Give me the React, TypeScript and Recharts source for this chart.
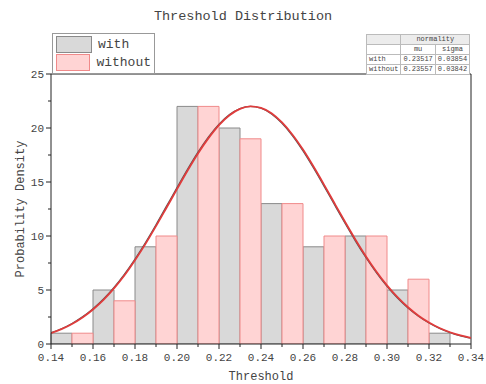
import { Bar, ComposedChart, Legend, Line, ReferenceLine, XAxis, YAxis } from "recharts";

// Histogram bins (0.01 wide), "with" and "without" interleaved.
const binStarts = [
  0.14, 0.15, 0.16, 0.17, 0.18, 0.19, 0.2, 0.21, 0.22, 0.23,
  0.24, 0.25, 0.26, 0.27, 0.28, 0.29, 0.3, 0.31, 0.32, 0.33,
];
const withBins = [0.14, 0.16, 0.18, 0.2, 0.22, 0.24, 0.26, 0.28, 0.3, 0.32];
const withCounts = [1, 5, 9, 22, 20, 13, 9, 10, 5, 1];
const withoutBins = [0.15, 0.17, 0.19, 0.21, 0.23, 0.25, 0.27, 0.29, 0.31];
const withoutCounts = [1, 4, 10, 22, 19, 13, 10, 10, 6];

// Normal fit curves.
const curveX = [
  0.14, 0.145, 0.15, 0.155, 0.16, 0.165, 0.17, 0.175, 0.18, 0.185, 0.19,
  0.195, 0.2, 0.205, 0.21, 0.215, 0.22, 0.225, 0.23, 0.235, 0.24, 0.245,
  0.25, 0.255, 0.26, 0.265, 0.27, 0.275, 0.28, 0.285, 0.29, 0.295, 0.3,
  0.305, 0.31, 0.315, 0.32, 0.325, 0.33, 0.335, 0.34,
];
const withCurve = [
  1.04, 1.41, 1.9, 2.51, 3.27, 4.17, 5.24, 6.48, 7.87, 9.4, 11.04, 12.76,
  14.48, 16.17, 17.76, 19.17, 20.35, 21.24, 21.8, 22.0, 21.83, 21.3, 20.43,
  19.28, 17.88, 16.3, 14.62, 12.89, 11.18, 9.53, 7.99, 6.59, 5.34, 4.25,
  3.33, 2.57, 1.95, 1.45, 1.06, 0.76, 0.54,
];
const withoutCurve = [
  1.01, 1.38, 1.86, 2.46, 3.2, 4.09, 5.15, 6.37, 7.76, 9.27, 10.91, 12.62,
  14.34, 16.04, 17.64, 19.06, 20.27, 21.18, 21.77, 22.0, 21.86, 21.36,
  20.51, 19.38, 18.0, 16.43, 14.76, 13.03, 11.32, 9.66, 8.11, 6.69, 5.43,
  4.33, 3.4, 2.62, 1.99, 1.48, 1.09, 0.79, 0.56,
];

const xTicks = [
  0.14, 0.15, 0.16, 0.17, 0.18, 0.19, 0.2, 0.21, 0.22, 0.23, 0.24, 0.25,
  0.26, 0.27, 0.28, 0.29, 0.3, 0.31, 0.32, 0.33, 0.34,
];
const yTicks = [0, 2.5, 5, 7.5, 10, 12.5, 15, 17.5, 20, 22.5, 25];

const fitRows = [
  { name: "with", mu: "0.23517", sigma: "0.03854" },
  { name: "without", mu: "0.23557", sigma: "0.03842" },
];

const binRows = binStarts.map((b) => {
  const wi = withBins.findIndex((v) => Math.abs(v - b) < 1e-9);
  const wo = withoutBins.findIndex((v) => Math.abs(v - b) < 1e-9);
  return {
    bin: b.toFixed(2),
    with: wi >= 0 ? withCounts[wi] : 0,
    without: wo >= 0 ? withoutCounts[wo] : 0,
  };
});
const withLine = curveX.map((x, i) => ({ x, y: withCurve[i] }));
const withoutLine = curveX.map((x, i) => ({ x, y: withoutCurve[i] }));

const FONT = "'Liberation Mono', monospace";
const TEXT = "#444";
const GRAY_FILL = "#d9d9d9";
const GRAY_EDGE = "#8a8a8a";
const PINK_FILL = "#ffd4d4";
const PINK_EDGE = "#f08a8a";

function XTick({ x, y, payload }: any) {
  const v = payload.value as number;
  const major = Math.round(v * 100) % 2 === 0;
  return (
    <g>
      <line x1={x} x2={x} y1={y} y2={y + (major ? 5 : 3)} stroke="#222" />
      {major && (
        <text x={x} y={y + 17} textAnchor="middle" fontSize={11} fill={TEXT} fontFamily={FONT}>
          {v.toFixed(2)}
        </text>
      )}
    </g>
  );
}

function YTick({ x, y, payload }: any) {
  const v = payload.value as number;
  const major = v % 5 === 0;
  return (
    <g>
      <line x1={x} x2={x - (major ? 5 : 3)} y1={y} y2={y} stroke="#222" />
      {major && (
        <text x={x - 7} y={y + 4} textAnchor="end" fontSize={11} fill={TEXT} fontFamily={FONT}>
          {v}
        </text>
      )}
    </g>
  );
}

function YLabel({ viewBox }: any) {
  const cx = viewBox.x + 21;
  const cy = viewBox.y + viewBox.height / 2;
  return (
    <text
      x={cx}
      y={cy}
      transform={`rotate(-90 ${cx} ${cy})`}
      textAnchor="middle"
      dominantBaseline="central"
      fontSize={12}
      fill={TEXT}
      fontFamily={FONT}
    >
      Probability Density
    </text>
  );
}

function LegendBox() {
  const item = (fill: string, edge: string, label: string) => (
    <div style={{ display: "flex", alignItems: "center", height: 18 }}>
      <span
        style={{
          display: "inline-block",
          width: 34,
          height: 15,
          background: fill,
          border: `1px solid ${edge}`,
          marginRight: 6,
        }}
      />
      <span style={{ fontSize: 13, color: TEXT, fontFamily: FONT }}>{label}</span>
    </div>
  );
  return (
    <div
      style={{
        border: "1px solid #999",
        background: "#fff",
        padding: "1px 3px 2px",
        width: 95,
      }}
    >
      {item(GRAY_FILL, GRAY_EDGE, "with")}
      {item(PINK_FILL, PINK_EDGE, "without")}
    </div>
  );
}

function FitTable() {
  const cell: React.CSSProperties = {
    border: "1px solid #bbb",
    padding: "0 2px",
    height: 9,
    lineHeight: "9px",
  };
  return (
    <table
      style={{
        position: "absolute",
        left: 366,
        top: 34,
        width: 103,
        borderCollapse: "collapse",
        fontFamily: FONT,
        fontSize: 7,
        color: TEXT,
        background: "#fff",
      }}
    >
      <tbody>
        <tr style={{ background: "#ececec" }}>
          <td style={cell} />
          <td style={{ ...cell, textAlign: "center" }} colSpan={2}>
            normality
          </td>
        </tr>
        <tr>
          <td style={cell} />
          <td style={{ ...cell, textAlign: "center" }}>mu</td>
          <td style={{ ...cell, textAlign: "center" }}>sigma</td>
        </tr>
        {fitRows.map((r) => (
          <tr key={r.name}>
            <td style={cell}>{r.name}</td>
            <td style={cell}>{r.mu}</td>
            <td style={cell}>{r.sigma}</td>
          </tr>
        ))}
      </tbody>
    </table>
  );
}

export default function App() {
  return (
    <div style={{ position: "relative", width: 486, height: 384, background: "#fff" }}>
      <style>{`body{margin:0}`}</style>
      <div
        style={{
          position: "absolute",
          top: 9,
          left: 0,
          width: 486,
          textAlign: "center",
          fontFamily: FONT,
          fontSize: 13.5,
          color: TEXT,
          lineHeight: "16px",
        }}
      >
        Threshold Distribution
      </div>
      <ComposedChart
        width={486}
        height={384}
        data={binRows}
        margin={{ top: 33, right: 15, left: 0, bottom: 0 }}
        barCategoryGap={0}
        barGap={0}
      >
        <XAxis
          xAxisId="num"
          type="number"
          dataKey="x"
          domain={[0.14, 0.34]}
          ticks={xTicks}
          allowDataOverflow
          height={40}
          tickSize={0}
          tickMargin={0}
          tickLine={false}
          tick={<XTick />}
          interval={0}
          axisLine={{ stroke: "#222" }}
          label={{
            value: "Threshold",
            position: "insideBottom",
            offset: 4,
            fontSize: 12,
            fill: TEXT,
            fontFamily: FONT,
          }}
        />
        <XAxis xAxisId="bins" dataKey="bin" hide height={0} />
        <YAxis
          type="number"
          domain={[0, 25]}
          ticks={yTicks}
          allowDataOverflow
          width={51}
          tickSize={0}
          tickMargin={0}
          tickLine={false}
          tick={<YTick />}
          interval={0}
          axisLine={{ stroke: "#222" }}
          label={{ content: (p: any) => <YLabel {...p} /> }}
        />
        <Bar
          xAxisId="bins"
          dataKey="with"
          stackId="h"
          fill={GRAY_FILL}
          stroke={GRAY_EDGE}
          strokeWidth={1}
          isAnimationActive={false}
        />
        <Bar
          xAxisId="bins"
          dataKey="without"
          stackId="h"
          fill={PINK_FILL}
          stroke={PINK_EDGE}
          strokeWidth={1}
          isAnimationActive={false}
        />
        <ReferenceLine xAxisId="num" y={25} stroke="#222" />
        <ReferenceLine xAxisId="num" x={0.34} stroke="#222" />
        <Line
          xAxisId="num"
          data={withLine}
          dataKey="y"
          type="monotone"
          stroke="#555"
          strokeWidth={1.3}
          dot={false}
          activeDot={false}
          isAnimationActive={false}
        />
        <Line
          xAxisId="num"
          data={withoutLine}
          dataKey="y"
          type="monotone"
          stroke="#e03c3c"
          strokeWidth={1.8}
          dot={false}
          activeDot={false}
          isAnimationActive={false}
        />
        <Legend
          verticalAlign="top"
          align="left"
          wrapperStyle={{ position: "absolute", top: 33, left: 52, width: "auto" }}
          content={() => <LegendBox />}
        />
      </ComposedChart>
      <FitTable />
    </div>
  );
}
